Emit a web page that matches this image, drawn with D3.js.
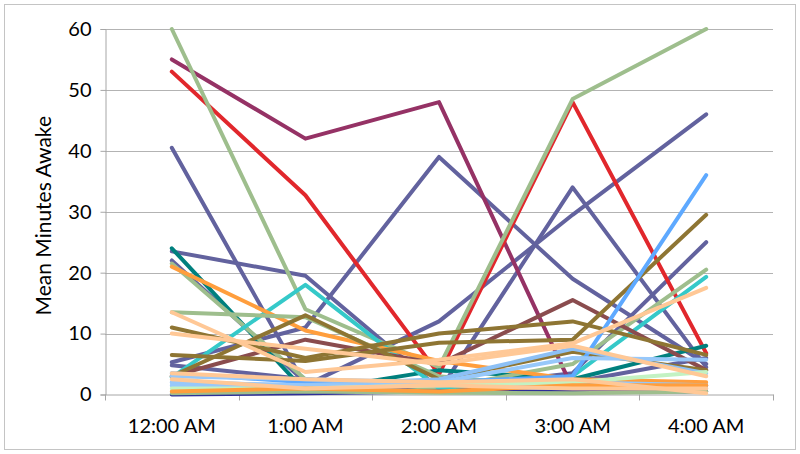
<!DOCTYPE html>
<html><head><meta charset="utf-8">
<script src="https://cdn.jsdelivr.net/npm/d3@7"></script>
<style>html,body{margin:0;padding:0;background:#fff;}svg{display:block;font-family:Lato,"Open Sans",sans-serif;}</style>
</head><body><svg id="chart" width="800" height="454"></svg>
<script>
const categories = ["12:00 AM", "1:00 AM", "2:00 AM", "3:00 AM", "4:00 AM"];
const yTicks = [0, 10, 20, 30, 40, 50, 60];
const yTitle = "Mean Minutes Awake";

const s01 = [23.5, 19.5, 1, 3.5, 25];
const s02 = [40.5, 1.5, 12, 29.5, 46];
const s03 = [5.3, 11, 39, 19, 5];
const s04 = [22, 2, 0.5, 34, 4.5];
const s05 = [4.8, 2.5, 1, 2, 6];
const s06 = [55, 42, 48, 1, 1.5];
const s07 = [53, 32.7, 3.3, 48, 6.8];
const s08 = [60, 14, 4.5, 48.5, 60];
const s09 = [24, 0.5, 4, 2.5, 8];
const s10 = [21.5, 2.5, 1, 5, 20.5];
const s11 = [2.8, 18, 1, 3, 19.3];
const s12 = [21, 10.5, 5.5, 2.5, 2];
const s13 = [13.5, 12.7, 3, 1, 0.5];
const s14 = [3, 9, 5, 15.5, 4];
const s15 = [11, 6, 10, 12, 6.5];
const s16 = [6.5, 5.5, 8.5, 9, 29.5];
const s17 = [3, 13, 2.5, 7, 4];
const s18 = [3.5, 2, 2, 3, 36];
const s19 = [2, 1.5, 2.5, 7.5, 3.5];
const s20 = [3, 2.5, 2, 6, 5.7];
const s21 = [2, 1.5, 1.5, 2, 1.5];
const s22 = [1.5, 1, 2, 1.5, 1];
const s23 = [1, 1, 1.5, 2, 3.7];
const s24 = [0, 0.2, 0.5, 0.5, 0.5];
const s25 = [0.2, 0.5, 0.3, 0.2, 0.5];
const s26 = [0.5, 1, 0.5, 1.5, 1.5];
const s27 = [13.5, 3.7, 5.7, 8.4, 17.5];
const s28 = [10, 7.5, 5, 8, 3];
const s29 = [3.5, 2.5, 2, 2.5, 0.2];
const s30 = [2.5, 1, 1.5, 1, 1];

const seriesValues = [s01,s02,s03,s04,s05,s06,s07,s08,s09,s10,s11,s12,s13,s14,s15,s16,s17,s18,s19,s20,s21,s22,s23,s24,s25,s26,s27,s28,s29,s30];
const seriesColors = ["#62629E","#62629E","#62629E","#62629E","#62629E","#953265","#E1272C","#9EBE8D","#00807E","#9EBE8D",
  "#35C9C9","#FF9E3D","#9EBE8D","#8A4C4E","#8E7533","#8E7533","#8E7533","#5EA9FF","#8DC0F5","#97C8FA",
  "#97C8FA","#97C8FA","#C3F2C3","#2E2E99","#9EBE8D","#FF9E3D","#FFC896","#FFC896","#FFC896","#FFC896"];

const svg = d3.select("#chart");
const mLeft = 105, mRight = 773, mTop = 29, mBottom = 394.5;

svg.append("rect").attr("x", 4.5).attr("y", 4.5).attr("width", 791).attr("height", 445)
  .attr("fill", "#fff").attr("stroke", "#c4c4c4").attr("stroke-width", 1);

const x = d3.scaleBand().domain(categories).range([mLeft, mRight]).padding(0);
const y = d3.scaleLinear().domain([0, 60]).range([mBottom, mTop]);

// gridlines
svg.append("g").selectAll("line").data(yTicks.filter(d => d > 0)).join("line")
  .attr("x1", mLeft).attr("x2", mRight)
  .attr("y1", d => Math.round(y(d)) + 0.5).attr("y2", d => Math.round(y(d)) + 0.5)
  .attr("stroke", "#b3b3b3").attr("stroke-width", 1);

// y axis
const yAxis = d3.axisLeft(y).tickValues(yTicks).tickSize(5).tickPadding(9).tickFormat(d3.format("d"));
const gy = svg.append("g").attr("transform", `translate(${mLeft + 0.5},0)`).call(yAxis);
gy.select(".domain").attr("stroke", "#a6a6a6");
gy.selectAll(".tick line").attr("stroke", "#a6a6a6");
gy.selectAll(".tick text").attr("font-size", 20).attr("fill", "#000").attr("font-family", "Lato, 'Open Sans', sans-serif");

// x axis
const xAxis = d3.axisBottom(x).tickSize(0).tickPadding(24);
const gx = svg.append("g").attr("transform", `translate(0,${mBottom})`).call(xAxis);
gx.select(".domain").attr("stroke", "#a6a6a6");
gx.selectAll(".tick text").attr("font-size", 20).attr("fill", "#000").attr("font-family", "Lato, 'Open Sans', sans-serif");
// band boundary ticks
const bounds = categories.map(c => x(c)).concat([x(categories[categories.length - 1]) + x.bandwidth()]);
gx.append("g").selectAll("line").data(bounds).join("line")
  .attr("x1", d => Math.round(d) + 0.5).attr("x2", d => Math.round(d) + 0.5)
  .attr("y1", 0).attr("y2", 6).attr("stroke", "#a6a6a6");

// y title
svg.append("text").attr("transform", `translate(51,${(mTop + mBottom) / 2 + 4}) rotate(-90)`)
  .attr("text-anchor", "middle").attr("font-size", 21).attr("fill", "#000")
  .text(yTitle);

// lines
const line = d3.line().x((d, i) => x(categories[i]) + x.bandwidth() / 2).y(d => y(d));
svg.append("g").selectAll("path").data(seriesValues).join("path")
  .attr("d", d => line(d))
  .attr("fill", "none")
  .attr("stroke", (d, i) => seriesColors[i])
  .attr("stroke-width", 4)
  .attr("stroke-linejoin", "round")
  .attr("stroke-linecap", "round");
</script></body></html>
